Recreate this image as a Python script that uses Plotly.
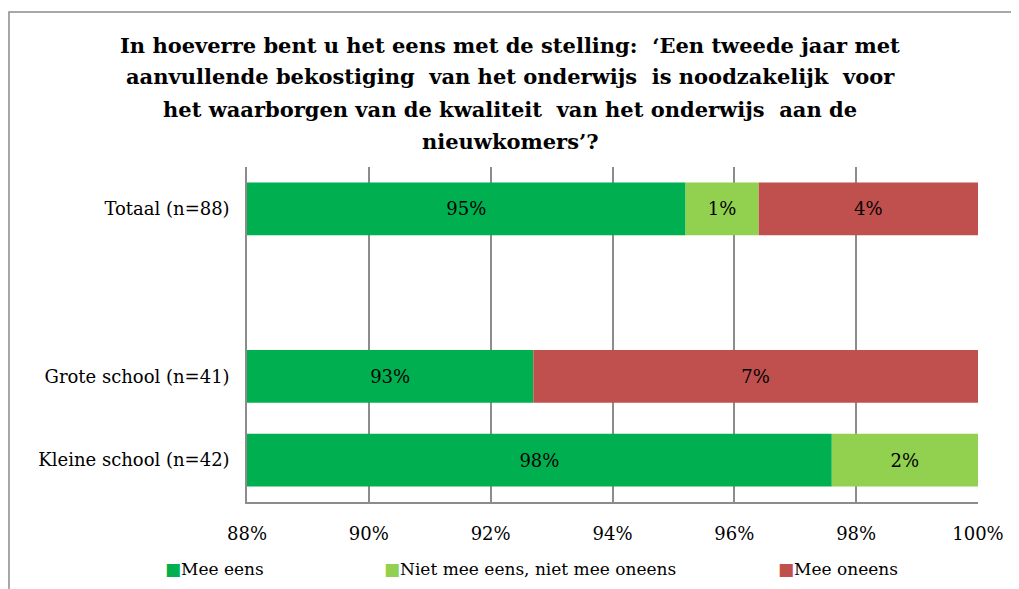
import plotly.graph_objects as go

# categories bottom -> top, with an empty row between Totaal and the groups
categories = ["Kleine school (n=42)", "Grote school (n=41)", " ", "Totaal (n=88)"]
groups = ["Kleine school (n=42)", "Grote school (n=41)", "Totaal (n=88)"]

mee_eens = [97.6, 92.7, 95.2]
neutraal = [2.4, 0.0, 1.2]
mee_oneens = [0.0, 7.3, 3.6]

series_names = ["Mee eens", "Niet mee eens, niet mee oneens", "Mee oneens"]
colors = ["#00B050", "#92D050", "#C0504D"]

title_lines = [
    "In hoeverre bent u het eens met de stelling:  ‘Een tweede jaar met",
    "aanvullende bekostiging  van het onderwijs  is noodzakelijk  voor",
    "het waarborgen van de kwaliteit  van het onderwijs  aan de",
    "nieuwkomers’?",
]

FONT = "DejaVu Serif"
x_min = 88

fig = go.Figure()

values = [mee_eens, neutraal, mee_oneens]
bases = [
    [x_min] * len(groups),
    mee_eens,
    [a + b for a, b in zip(mee_eens, neutraal)],
]
for name, vals, base, col in zip(series_names, values, bases, colors):
    lengths = [v - x_min if name == "Mee eens" else v for v in vals]
    labels = [f"{round(v)}%" if v > 0 else "" for v in vals]
    fig.add_trace(go.Bar(
        y=groups, x=lengths, base=base, orientation="h", name=name,
        marker=dict(color=col, line=dict(width=0)),
        text=labels, textposition="inside", insidetextanchor="middle",
        textangle=0, textfont=dict(family=FONT, size=18, color="black"),
        showlegend=False, hoverinfo="skip",
    ))

# the page body has an 8px margin, so the figure is 8px smaller each way
fig.update_layout(
    width=1011, height=581,
    margin=dict(l=239, r=41, t=159, b=87),
    paper_bgcolor="white", plot_bgcolor="white",
    barmode="overlay", bargap=0.37,
    font=dict(family=FONT, size=17, color="black"),
)
fig.update_xaxes(
    range=[x_min, 100], dtick=2, ticksuffix="%",
    showgrid=True, gridcolor="#8C8C8C", gridwidth=1.5,
    showline=True, linecolor="#8C8C8C", linewidth=1.5,
    ticks="outside", ticklen=15, tickcolor="rgba(0,0,0,0)",
    tickfont=dict(family=FONT, size=18), zeroline=False,
)
fig.update_yaxes(
    categoryorder="array", categoryarray=categories, type="category",
    range=[-0.5, 3.5],
    showline=True, linecolor="#8C8C8C", linewidth=1.5,
    ticks="outside", ticklen=12, tickcolor="rgba(0,0,0,0)",
    tickfont=dict(family=FONT, size=18),
)

# title, line by line (Excel-like line spacing)
for i, line in enumerate(title_lines):
    fig.add_annotation(
        text=f"<b>{line}</b>", xref="paper", yref="paper",
        x=0.36, y=(502 - (45 + 32 * i)) / 335, xanchor="center", yanchor="middle",
        showarrow=False, font=dict(family=FONT, size=21, color="black"),
    )

# legend along the bottom
legend_x = [-0.115, 0.1847, 0.7237]
for name, col, lx in zip(series_names, colors, legend_x):
    fig.add_annotation(
        text=f"<span style='color:{col}'>■</span>{name}",
        xref="paper", yref="paper", x=lx, y=-0.2,
        xanchor="left", yanchor="middle", showarrow=False,
        font=dict(family=FONT, size=17, color="black"),
    )

# outer chart border (cropped on the right and bottom)
fig.add_shape(
    type="rect", xref="paper", yref="paper",
    x0=-0.3256, y0=-1, x1=2, y1=1.463,
    line=dict(color="#8C8C8C", width=1.5), layer="below",
)

fig.write_html("out.html")
